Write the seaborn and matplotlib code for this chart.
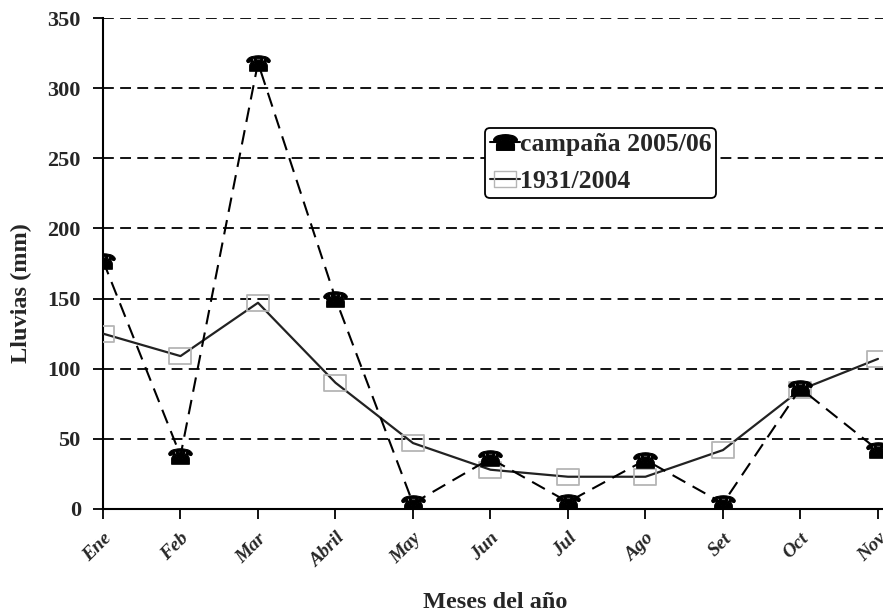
import matplotlib
matplotlib.use("Agg")
import matplotlib.pyplot as plt
import seaborn as sns
import pandas as pd
from matplotlib.lines import Line2D
from matplotlib.path import Path

meses = ["Ene", "Feb", "Mar", "Abril", "May", "Jun", "Jul", "Ago", "Set", "Oct", "Nov"]
campana_2005_06 = [177, 38, 318, 150, 4, 36, 5, 35, 4, 86, 42]
serie_1931_2004 = [125, 109, 147, 90, 47, 28, 23, 23, 42, 85, 107]
y_ticks = [0, 50, 100, 150, 200, 250, 300, 350]

sns.set_style("white")
plt.rcParams["font.family"] = ["Liberation Serif", "DejaVu Serif"]

df = pd.DataFrame({
    "pos": range(len(meses)),
    "mes": meses,
    "campana": campana_2005_06,
    "historico": serie_1931_2004,
})

fig = plt.figure(figsize=(8.83, 6.16), dpi=100)
ax = fig.add_axes([103 / 883, 1 - 509 / 616, 1 - 103 / 883, (509 - 18) / 616])

phone = "$\u260E$"
# flat open rectangle used for the long-term series
rect = Path([(-1, -0.68), (1, -0.68), (1, 0.68), (-1, 0.68), (-1, -0.68)],
            [Path.MOVETO, Path.LINETO, Path.LINETO, Path.LINETO, Path.CLOSEPOLY])

# long-term average: solid line with open grey rectangles
sns.lineplot(data=df, x="pos", y="historico", ax=ax, color="#222222", linewidth=1.6,
             marker=rect, markersize=16, markerfacecolor="none",
             markeredgecolor="#b5b5b5", markeredgewidth=1.3, zorder=3)
# 2005/06 season: dashed line with telephone markers
sns.lineplot(data=df, x="pos", y="campana", ax=ax, color="black", linewidth=1.5,
             marker=phone, markersize=17, markerfacecolor="black",
             markeredgecolor="black", zorder=4)
ax.lines[-1].set_dashes([7, 4])

ax.set_xlim(0, 10.065)
ax.set_ylim(0, 350)
ax.set_yticks(y_ticks)
ax.set_xticks(range(len(meses)))
ax.set_xticklabels(meses, rotation=45, ha="right", va="top", rotation_mode="anchor",
                   fontsize=14, fontweight="bold", fontstyle="italic")
ax.set_yticklabels([str(v) for v in y_ticks], fontsize=16, fontweight="bold")

for v in y_ticks[1:]:
    ax.axhline(v, color="black", linewidth=1.3, dashes=(6, 3.5), zorder=1)

for side in ["top", "right"]:
    ax.spines[side].set_visible(False)
for side in ["left", "bottom"]:
    ax.spines[side].set_color("black")
    ax.spines[side].set_linewidth(1.5)

ax.tick_params(axis="both", direction="out", length=7, width=1.3, color="black",
               bottom=True, left=True)
ax.tick_params(axis="y", pad=9)
ax.tick_params(axis="x", pad=8)

ax.set_xlabel("Meses del año", fontsize=17.5, fontweight="bold")
ax.xaxis.label.set_va("center")
ax.xaxis.set_label_coords(0.503, (509 - 602) / 491)
ax.set_ylabel("Lluvias (mm)", fontsize=17.5, fontweight="bold")
ax.yaxis.label.set_va("center")
ax.yaxis.set_label_coords((21 - 103) / 780, (509 - 293) / 491)

handles = [
    Line2D([], [], color="black", linewidth=1.5, marker=phone, markersize=17,
           markerfacecolor="black", markeredgecolor="black"),
    Line2D([], [], color="#222222", linewidth=1.5, marker=rect, markersize=16,
           markerfacecolor="none", markeredgecolor="#b5b5b5"),
]
leg = fig.legend(handles, ["campaña 2005/06", "1931/2004"],
                 loc="upper left", bbox_to_anchor=(485 / 883, 1 - 128 / 616),
                 bbox_transform=fig.transFigure, frameon=True, fancybox=True,
                 prop={"family": "Liberation Serif", "weight": "bold", "size": 18.5},
                 handlelength=1.15, handletextpad=0.0, borderpad=0.2,
                 labelspacing=0.55, borderaxespad=0)
leg.get_frame().set_edgecolor("black")
leg.get_frame().set_linewidth(1.3)
leg.get_frame().set_alpha(1)

fig.savefig("out.png", dpi=100)
